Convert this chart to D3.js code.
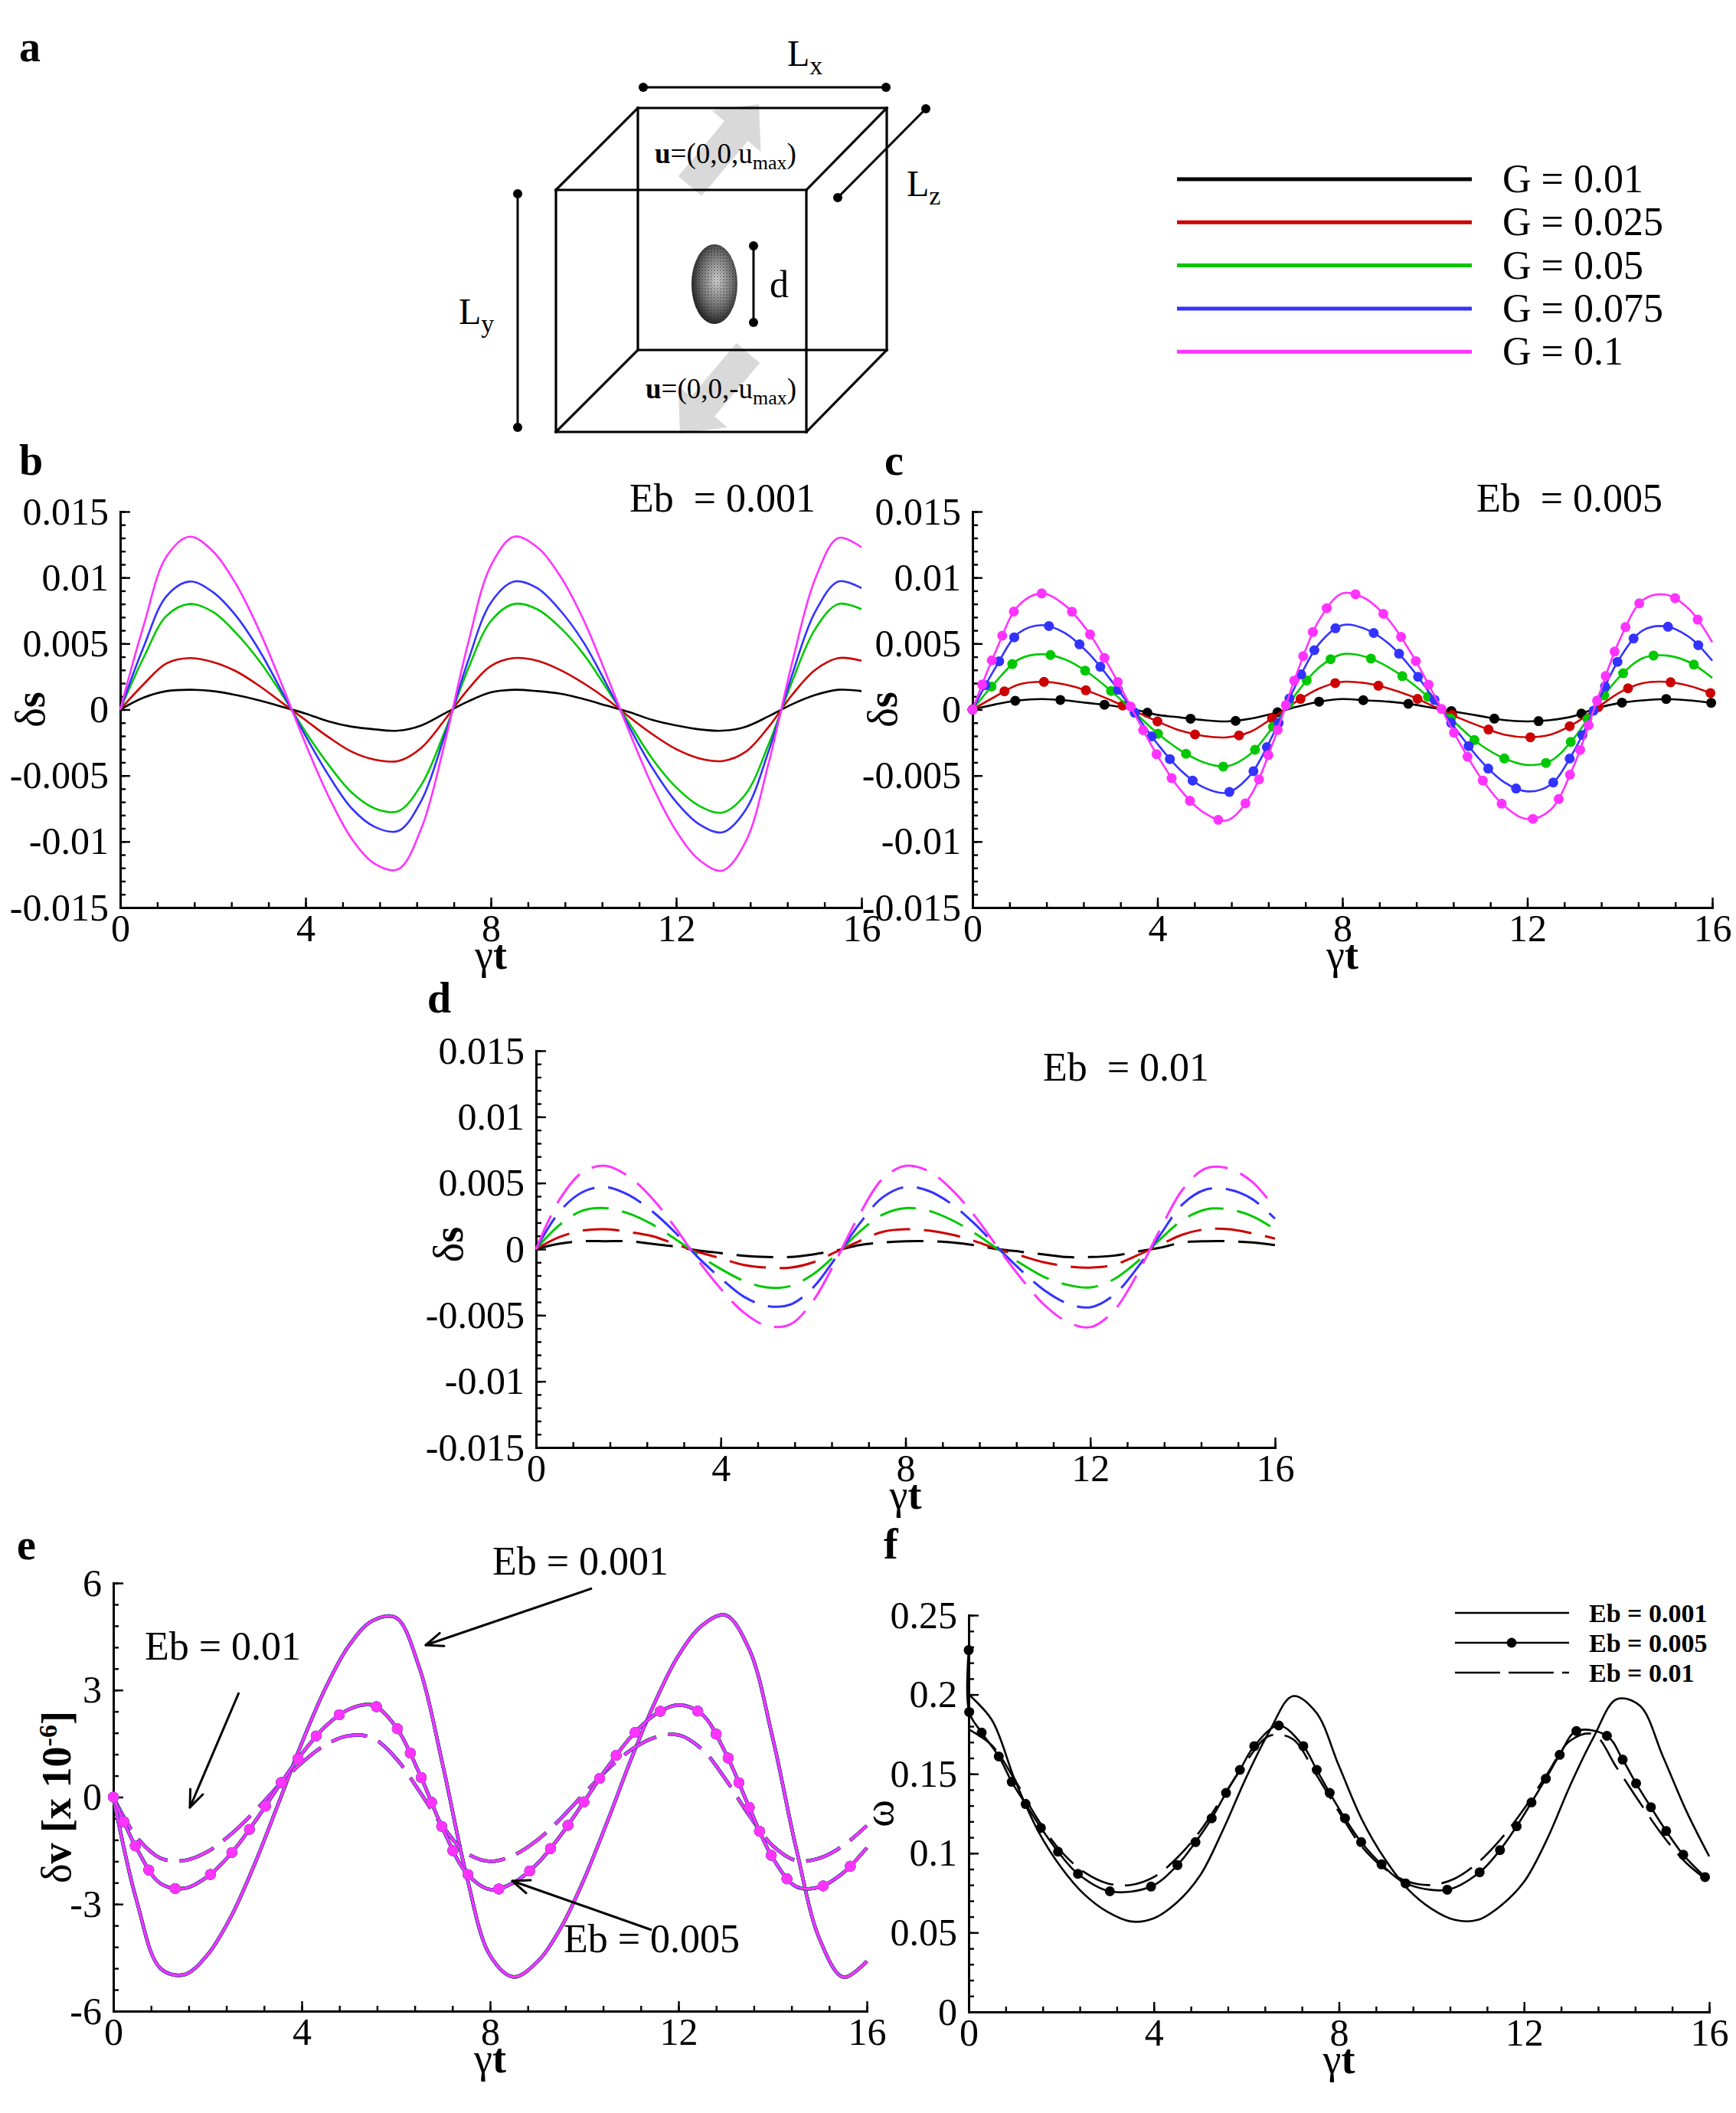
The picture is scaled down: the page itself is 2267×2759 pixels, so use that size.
<!DOCTYPE html>
<html><head><meta charset="utf-8">
<script src="https://cdn.jsdelivr.net/npm/d3@7"></script>
<style>
body{margin:0;background:#fff;}
svg{display:block;}
</style></head><body>
<svg id="fig" width="2267" height="2759" xmlns="http://www.w3.org/2000/svg"></svg>
<script>
// ---------------- DATA ----------------
const tGrid = [0,0.5,1,1.5,2,2.5,3,3.5,4,4.5,5,5.5,6,6.5,7,7.5,8,8.5,9,9.5,10,10.5,11,11.5,12,12.5,13,13.5,14,14.5,15,15.5,16];

const gLabels = ["G = 0.01","G = 0.025","G = 0.05","G = 0.075","G = 0.1"];
const gColors = ["#000000","#cc0000","#00c800","#3333ff","#ff33ff"];

// panel b : Eb = 0.001, delta s
const b_G001  = [0,0.0009,0.0014,0.0015,0.0014,0.0011,0.0007,0.0002,-0.0003,-0.0009,-0.0013,-0.0015,-0.0016,-0.0012,-0.0003,0.0006,0.0013,0.0015,0.0014,0.0012,0.0008,0.0003,-0.0002,-0.0008,-0.0012,-0.0015,-0.0016,-0.0013,-0.0005,0.0004,0.0011,0.0015,0.0014];
const b_G0025 = [0,0.0019,0.0035,0.0039,0.0036,0.0029,0.0018,0.0005,-0.0008,-0.0021,-0.0032,-0.0038,-0.0039,-0.0029,-0.0008,0.0015,0.0033,0.0039,0.0037,0.0030,0.0020,0.0008,-0.0006,-0.0019,-0.0030,-0.0037,-0.0039,-0.0032,-0.0013,0.0011,0.0030,0.0039,0.0037];
const b_G005  = [0,0.0039,0.0071,0.0080,0.0074,0.0058,0.0037,0.0011,-0.0017,-0.0042,-0.0063,-0.0075,-0.0077,-0.0057,-0.0017,0.0030,0.0067,0.0080,0.0076,0.0062,0.0042,0.0016,-0.0011,-0.0038,-0.0059,-0.0073,-0.0078,-0.0064,-0.0026,0.0021,0.0061,0.0080,0.0076];
const b_G0075 = [0,0.0047,0.0086,0.0097,0.0089,0.0071,0.0045,0.0013,-0.0020,-0.0050,-0.0075,-0.0089,-0.0092,-0.0069,-0.0020,0.0036,0.0081,0.0097,0.0092,0.0075,0.0051,0.0019,-0.0014,-0.0045,-0.0070,-0.0087,-0.0093,-0.0076,-0.0031,0.0026,0.0074,0.0097,0.0092];
const b_G01   = [0,0.0063,0.0116,0.0131,0.0120,0.0095,0.0060,0.0018,-0.0026,-0.0066,-0.0098,-0.0117,-0.0121,-0.0090,-0.0026,0.0049,0.0109,0.0131,0.0123,0.0101,0.0068,0.0026,-0.0018,-0.0059,-0.0092,-0.0114,-0.0122,-0.0100,-0.0040,0.0035,0.0099,0.0130,0.0123];

// panel c : Eb = 0.005
const c_G001  = [0,0.0004,0.0007,0.0008,0.0007,0.0005,0.0003,0.0000,-0.0004,-0.0006,-0.0008,-0.0009,-0.0007,-0.0003,0.0002,0.0006,0.0008,0.0007,0.0006,0.0004,0.0001,-0.0002,-0.0005,-0.0008,-0.0009,-0.0008,-0.0005,0.0001,0.0005,0.0007,0.0008,0.0007,0.0005];
const c_G0025 = [0,0.0010,0.0019,0.0021,0.0019,0.0014,0.0007,-0.0001,-0.0009,-0.0016,-0.0020,-0.0021,-0.0017,-0.0006,0.0006,0.0016,0.0021,0.0020,0.0016,0.0010,0.0002,-0.0006,-0.0013,-0.0019,-0.0021,-0.0019,-0.0011,0.0001,0.0013,0.0020,0.0021,0.0018,0.0012];
const c_G005  = [0,0.0021,0.0038,0.0042,0.0038,0.0028,0.0014,-0.0002,-0.0018,-0.0031,-0.0040,-0.0043,-0.0034,-0.0013,0.0012,0.0032,0.0042,0.0040,0.0032,0.0020,0.0005,-0.0012,-0.0027,-0.0037,-0.0042,-0.0039,-0.0022,0.0003,0.0025,0.0039,0.0041,0.0036,0.0024];
const c_G0075 = [0,0.0032,0.0058,0.0064,0.0058,0.0043,0.0022,-0.0002,-0.0026,-0.0046,-0.0059,-0.0063,-0.0050,-0.0019,0.0019,0.0050,0.0064,0.0061,0.0050,0.0031,0.0007,-0.0017,-0.0039,-0.0055,-0.0062,-0.0057,-0.0032,0.0004,0.0039,0.0060,0.0063,0.0055,0.0037];
const c_G01   = [0,0.0044,0.0079,0.0088,0.0079,0.0059,0.0030,-0.0003,-0.0035,-0.0061,-0.0078,-0.0084,-0.0066,-0.0025,0.0026,0.0068,0.0088,0.0084,0.0068,0.0042,0.0010,-0.0023,-0.0052,-0.0073,-0.0083,-0.0076,-0.0043,0.0006,0.0053,0.0083,0.0087,0.0076,0.0051];

// panel d : Eb = 0.01
const d_G001  = [0,0.0004,0.0006,0.0006,0.0006,0.0004,0.0002,-0.0001,-0.0003,-0.0005,-0.0006,-0.0006,-0.0004,-0.0001,0.0003,0.0005,0.0006,0.0006,0.0005,0.0003,0.0000,-0.0002,-0.0004,-0.0006,-0.0006,-0.0005,-0.0002,0.0001,0.0005,0.0006,0.0006,0.0005,0.0003];
const d_G0025 = [0,0.0009,0.0014,0.0015,0.0013,0.0010,0.0004,-0.0002,-0.0007,-0.0012,-0.0014,-0.0014,-0.0010,-0.0002,0.0006,0.0013,0.0015,0.0014,0.0011,0.0006,0.0000,-0.0005,-0.0010,-0.0013,-0.0014,-0.0012,-0.0005,0.0003,0.0011,0.0015,0.0015,0.0012,0.0008];
const d_G005  = [0,0.0018,0.0029,0.0031,0.0027,0.0019,0.0008,-0.0004,-0.0015,-0.0024,-0.0029,-0.0028,-0.0019,-0.0004,0.0013,0.0026,0.0031,0.0029,0.0022,0.0012,0.0000,-0.0011,-0.0021,-0.0027,-0.0029,-0.0023,-0.0010,0.0007,0.0022,0.0030,0.0030,0.0025,0.0015];
const d_G0075 = [0,0.0028,0.0043,0.0047,0.0041,0.0029,0.0013,-0.0006,-0.0022,-0.0036,-0.0043,-0.0042,-0.0029,-0.0006,0.0019,0.0039,0.0047,0.0044,0.0034,0.0019,0.0001,-0.0016,-0.0031,-0.0041,-0.0044,-0.0035,-0.0015,0.0010,0.0034,0.0045,0.0045,0.0038,0.0023];
const d_G01   = [0,0.0037,0.0058,0.0063,0.0055,0.0039,0.0017,-0.0008,-0.0030,-0.0048,-0.0058,-0.0057,-0.0039,-0.0008,0.0026,0.0053,0.0063,0.0059,0.0045,0.0025,0.0001,-0.0022,-0.0042,-0.0055,-0.0059,-0.0047,-0.0020,0.0014,0.0045,0.0061,0.0061,0.0051,0.0031];

// panel e : delta v [x 1e-6] (all G values coincide)
const e_Eb0001 = [0,-2.93,-4.80,-4.98,-4.42,-3.35,-1.88,-0.20,1.51,3.04,4.24,4.94,5.03,3.62,0.87,-2.20,-4.44,-5.04,-4.62,-3.67,-2.29,-0.65,1.08,2.66,3.97,4.81,5.10,4.15,1.66,-1.44,-3.99,-5.05,-4.60];
const e_Eb0005 = [0,-1.45,-2.42,-2.56,-2.23,-1.58,-0.70,0.28,1.21,1.98,2.46,2.58,1.97,0.66,-0.90,-2.13,-2.59,-2.40,-1.87,-1.07,-0.12,0.85,1.70,2.31,2.58,2.32,1.24,-0.28,-1.70,-2.51,-2.52,-2.12,-1.42];
const e_Eb001  = [0,-1.13,-1.71,-1.78,-1.53,-1.04,-0.40,0.31,0.96,1.46,1.72,1.66,1.09,0.16,-0.83,-1.57,-1.80,-1.63,-1.21,-0.60,0.10,0.78,1.33,1.67,1.74,1.34,0.50,-0.51,-1.36,-1.78,-1.71,-1.36,-0.80];

// panel f : omega
const f_Eb0001 = [0.200,0.184,0.146,0.114,0.091,0.074,0.063,0.057,0.059,0.069,0.086,0.115,0.148,0.177,0.199,0.189,0.155,0.121,0.096,0.077,0.065,0.058,0.058,0.067,0.082,0.109,0.143,0.173,0.197,0.193,0.161,0.127,0.098];
const f_Eb001  = [0.178,0.168,0.146,0.121,0.101,0.088,0.081,0.080,0.085,0.097,0.114,0.136,0.158,0.174,0.172,0.150,0.126,0.104,0.090,0.082,0.080,0.084,0.094,0.109,0.128,0.150,0.171,0.175,0.154,0.132,0.111,0.094,0.082];
const f_Eb0005_t = [0,0.01,0.28,0.65,0.93,1.23,1.56,1.93,2.36,3.05,3.94,4.51,4.9,5.25,5.56,5.86,6.17,6.7,7.23,7.52,7.8,8.13,8.48,8.92,9.44,10.34,11.04,11.48,11.84,12.16,12.47,12.77,13.13,13.79,14.13,14.42,14.74,15.07,15.44,15.91];
const f_Eb0005_v = [0.228,0.189,0.176,0.161,0.145,0.131,0.116,0.101,0.087,0.076,0.079,0.0925,0.107,0.122,0.138,0.1525,0.1675,0.1805,0.1675,0.1525,0.138,0.122,0.107,0.093,0.081,0.077,0.088,0.102,0.117,0.132,0.147,0.162,0.177,0.174,0.159,0.144,0.129,0.114,0.099,0.085];
const fLegend = ["Eb = 0.001","Eb = 0.005","Eb = 0.01"];

// tick labels
const tTickVals = [0,4,8,12,16];
const tTickLabels = ["0","4","8","12","16"];
const dsTickVals = [-0.015,-0.01,-0.005,0,0.005,0.01,0.015];
const dsTickLabels = ["-0.015","-0.01","-0.005","0","0.005","0.01","0.015"];
const dvTickVals = [-6,-3,0,3,6];
const dvTickLabels = ["-6","-3","0","3","6"];
const wTickVals = [0,0.05,0.1,0.15,0.2,0.25];
const wTickLabels = ["0","0.05","0.1","0.15","0.2","0.25"];

// ---------------- DRAWING ----------------
const SERIF = '"Liberation Serif","Times New Roman",Times,serif';
const svg = d3.select("#fig").attr("font-family", SERIF);
svg.append("rect").attr("width",2267).attr("height",2759).attr("fill","#fff");

function txt(parent, x, y, s, size, weight, anchor){
  return parent.append("text").attr("x",x).attr("y",y).attr("font-size",size)
    .attr("font-weight",weight||"normal").attr("text-anchor",anchor||"start")
    .attr("fill","#000").style("white-space","pre").text(s);
}

const tMinor = d3.range(0, 16.001, 0.8);

function makePanel(o){
  const g = svg.append("g");
  const x = d3.scaleLinear().domain([0,16]).range([o.x0,o.x1]);
  const y = d3.scaleLinear().domain(o.yDomain).range([o.yBot,o.yTop]);
  const styl = a => {
    a.attr("font-family",SERIF);
    a.select(".domain").attr("stroke","#000").attr("stroke-width",3).attr("stroke-linecap","square");
    a.selectAll(".tick line").attr("stroke","#000").attr("stroke-width",2.4);
    a.selectAll(".tick text").attr("font-family",SERIF).attr("font-size",50).attr("fill","#000");
  };
  g.append("g").attr("transform",`translate(0,${o.yBot})`)
    .call(d3.axisBottom(x).tickValues(tMinor).tickSize(-7).tickFormat(""))
    .call(a=>{a.select(".domain").remove(); styl(a);});
  g.append("g").attr("transform",`translate(${o.x0},0)`)
    .call(d3.axisLeft(y).tickValues(o.yMinor).tickSize(-7).tickFormat(""))
    .call(a=>{a.select(".domain").remove(); styl(a);});
  g.append("g").attr("transform",`translate(0,${o.yBot})`)
    .call(d3.axisBottom(x).tickValues(tTickVals).tickSize(-13).tickSizeOuter(0).tickPadding(8)
      .tickFormat((d,i)=>tTickLabels[i])).call(styl);
  g.append("g").attr("transform",`translate(${o.x0},0)`)
    .call(d3.axisLeft(y).tickValues(o.yTickVals).tickSize(-13).tickSizeOuter(0).tickPadding(15)
      .tickFormat((d,i)=>o.yTickLabels[i])).call(styl);
  // x title  γt
  const xt = g.append("text").attr("x",x(8)).attr("y",o.yBot+80).attr("text-anchor","middle")
    .attr("font-size",54).attr("fill","#000");
  xt.append("tspan").text("γ");
  xt.append("tspan").attr("font-weight","bold").text("t");
  return {g,x,y};
}

function lineGen(P, xs){
  return d3.line().x((d,i)=>P.x(xs[i])).y(d=>P.y(d)).curve(d3.curveCatmullRom.alpha(0.5));
}

function arcMarkers(node, spacing, ky){
  const L = node.getTotalLength();
  let prev = node.getPointAtLength(0);
  const pts = [prev]; let acc = 0;
  for (let s = 1; s <= L; s += 1){
    const p = node.getPointAtLength(s);
    acc += Math.hypot(p.x-prev.x, (p.y-prev.y)*ky);
    prev = p;
    if (acc >= spacing){ pts.push(p); acc -= spacing; }
  }
  return pts;
}

function ytitle(x, y, parts, size){
  const t = svg.append("text").attr("transform",`translate(${x},${y}) rotate(-90)`)
    .attr("text-anchor","middle").attr("font-size",size).attr("fill","#000");
  parts.forEach(p=>{
    const s = t.append("tspan").text(p.s);
    if (p.b) s.attr("font-weight","bold");
    if (p.fs) s.attr("font-size",p.fs);
    if (p.dy) s.attr("dy",p.dy);
  });
  return t;
}

// ---------- panel a : schematic ----------
const A = svg.append("g");
function fatArrow(tail, tip, sw, hw, hl){
  const dx = tip[0]-tail[0], dy = tip[1]-tail[1], L = Math.hypot(dx,dy);
  const ux = dx/L, uy = dy/L, nx = -uy, ny = ux;
  const bx = tip[0]-ux*hl, by = tip[1]-uy*hl;
  const pts = [
    [tail[0]+nx*sw/2, tail[1]+ny*sw/2],
    [bx+nx*sw/2, by+ny*sw/2],
    [bx+nx*hw/2, by+ny*hw/2],
    tip,
    [bx-nx*hw/2, by-ny*hw/2],
    [bx-nx*sw/2, by-ny*sw/2],
    [tail[0]-nx*sw/2, tail[1]-ny*sw/2]
  ];
  A.append("polygon").attr("points",pts.map(p=>p.join(",")).join(" ")).attr("fill","#d9d9d9");
}
fatArrow([901,243],[991,136],40,84,46);
fatArrow([977,461],[888,566],40,84,46);

const defs = svg.append("defs");
const rg = defs.append("radialGradient").attr("id","ell").attr("cx","55%").attr("cy","45%").attr("r","60%");
rg.append("stop").attr("offset","0%").attr("stop-color","#d8d8d8");
rg.append("stop").attr("offset","55%").attr("stop-color","#7a7a7a");
rg.append("stop").attr("offset","100%").attr("stop-color","#1a1a1a");
const pat = defs.append("pattern").attr("id","stip").attr("width",4).attr("height",4).attr("patternUnits","userSpaceOnUse");
pat.append("circle").attr("cx",1).attr("cy",1).attr("r",0.9).attr("fill","#000").attr("opacity",0.45);
pat.append("circle").attr("cx",3).attr("cy",3).attr("r",0.7).attr("fill","#000").attr("opacity",0.3);
A.append("ellipse").attr("cx",933).attr("cy",371).attr("rx",30).attr("ry",52).attr("fill","url(#ell)");
A.append("ellipse").attr("cx",933).attr("cy",371).attr("rx",30).attr("ry",52).attr("fill","url(#stip)");

const cubeEdges = [
  [726,248,1053,248],[1053,248,1053,564],[1053,564,726,564],[726,564,726,248],
  [833,141,1158,141],[1158,141,1158,457],[1158,457,833,457],[833,457,833,141],
  [726,248,833,141],[1053,248,1158,141],[726,564,833,457],[1053,564,1158,457]
];
cubeEdges.forEach(e=>A.append("line").attr("x1",e[0]).attr("y1",e[1]).attr("x2",e[2]).attr("y2",e[3])
  .attr("stroke","#000").attr("stroke-width",3.2).attr("stroke-linecap","square"));

const dimLines = [[840,114,1157,114],[1209,142,1094,258],[676,253,676,558],[984,321,984,421]];
dimLines.forEach(e=>{
  A.append("line").attr("x1",e[0]).attr("y1",e[1]).attr("x2",e[2]).attr("y2",e[3]).attr("stroke","#000").attr("stroke-width",3);
  A.append("circle").attr("cx",e[0]).attr("cy",e[1]).attr("r",6).attr("fill","#000");
  A.append("circle").attr("cx",e[2]).attr("cy",e[3]).attr("r",6).attr("fill","#000");
});

function Llabel(x, y, sub){
  const t = A.append("text").attr("x",x).attr("y",y).attr("font-size",48).attr("fill","#000");
  t.append("tspan").text("L");
  t.append("tspan").attr("font-size",34).attr("dy",11).text(sub);
}
Llabel(1028,86,"x");
Llabel(1184,256,"z");
Llabel(599,423,"y");
txt(A,1005,388,"d",50);

function uLabel(x, y, mid){
  const t = A.append("text").attr("x",x).attr("y",y).attr("font-size",37).attr("fill","#000");
  t.append("tspan").attr("font-weight","bold").text("u");
  t.append("tspan").text(mid);
  t.append("tspan").attr("font-size",26).attr("dy",8).text("max");
  t.append("tspan").attr("dy",-8).text(")");
}
uLabel(855,213,"=(0,0,u");
uLabel(843,520,"=(0,0,-u");

// top legend
gLabels.forEach((lab,i)=>{
  const yy = 234 + i*56.3;
  svg.append("line").attr("x1",1537).attr("x2",1922).attr("y1",yy).attr("y2",yy)
    .attr("stroke",gColors[i]).attr("stroke-width",5);
  txt(svg,1962,yy+17,lab,52);
});

// panel letters
[["a",25,80],["b",25,620],["c",1155,620],["d",558,1322],["e",22,2036],["f",1154,2035]]
  .forEach(p=>txt(svg,p[1],p[2],p[0],56,"bold"));

// ---------- panels b, c, d ----------
const dsMinor = d3.range(-15, 15.5, 1).map(v=>v/1000);
const cfgDs = {yDomain:[-0.015,0.015], yTickVals:dsTickVals, yTickLabels:dsTickLabels, yMinor:dsMinor};

const Pb = makePanel(Object.assign({x0:157,x1:1125,yTop:668,yBot:1185},cfgDs));
[b_G001,b_G0025,b_G005,b_G0075,b_G01].forEach((arr,i)=>{
  Pb.g.append("path").attr("d",lineGen(Pb,tGrid)(arr)).attr("fill","none")
    .attr("stroke",gColors[i]).attr("stroke-width",2.6);
});
txt(svg,822,668,"Eb  = 0.001",52);
ytitle(58, Pb.y(0), [{s:"δ"},{s:"s",b:true}], 54);

const Pc = makePanel(Object.assign({x0:1270,x1:2236,yTop:668,yBot:1185},cfgDs));
[c_G001,c_G0025,c_G005,c_G0075,c_G01].forEach((arr,i)=>{
  const p = Pc.g.append("path").attr("d",lineGen(Pc,tGrid)(arr)).attr("fill","none")
    .attr("stroke",gColors[i]).attr("stroke-width",2.6);
  const pts = arcMarkers(p.node(), 59, 1.8);
  Pc.g.selectAll(null).data(pts).enter().append("circle")
    .attr("cx",d=>d.x).attr("cy",d=>d.y).attr("r",6.5).attr("fill",gColors[i]);
});
txt(svg,1928,668,"Eb  = 0.005",52);
ytitle(1171, Pc.y(0), [{s:"δ"},{s:"s",b:true}], 54);

const Pd = makePanel(Object.assign({x0:700,x1:1665,yTop:1372,yBot:1890},cfgDs));
[d_G001,d_G0025,d_G005,d_G0075,d_G01].forEach((arr,i)=>{
  Pd.g.append("path").attr("d",lineGen(Pd,tGrid)(arr)).attr("fill","none")
    .attr("stroke",gColors[i]).attr("stroke-width",3).attr("stroke-dasharray","48,18");
});
txt(svg,1362,1411,"Eb  = 0.01",52);
ytitle(604, Pd.y(0)-6, [{s:"δ"},{s:"s",b:true}], 54);

// ---------- panel e ----------
const Pe = makePanel({x0:148,x1:1132,yTop:2067,yBot:2626,yDomain:[-6,6],
  yTickVals:dvTickVals, yTickLabels:dvTickLabels, yMinor:d3.range(-6,6.01,0.6)});
const eWidths = [4.4,4.4,4.4,4.2,3.2];
[e_Eb0001, e_Eb001].forEach((arr,k)=>{
  gColors.forEach((c,i)=>{
    const p = Pe.g.append("path").attr("d",lineGen(Pe,tGrid)(arr)).attr("fill","none")
      .attr("stroke",c).attr("stroke-width",eWidths[i]);
    if (k===1) p.attr("stroke-dasharray","48,16");
  });
});
gColors.forEach((c,i)=>{
  const p = Pe.g.append("path").attr("d",lineGen(Pe,tGrid)(e_Eb0005)).attr("fill","none")
    .attr("stroke",c).attr("stroke-width",eWidths[i]);
  const pts = arcMarkers(p.node(), 59, 1.8);
  Pe.g.selectAll(null).data(pts).enter().append("circle")
    .attr("cx",d=>d.x).attr("cy",d=>d.y).attr("r",7).attr("fill",c);
});
ytitle(92, Pe.y(0), [{s:"δ"},{s:"v [x 10",b:true},{s:"-6",b:true,fs:34,dy:-18},{s:"]",b:true,dy:18}], 54);

function pointer(x1,y1,x2,y2){
  const ang = Math.atan2(y2-y1,x2-x1), L = 24, w = 0.38;
  svg.append("line").attr("x1",x1).attr("y1",y1).attr("x2",x2).attr("y2",y2).attr("stroke","#000").attr("stroke-width",3);
  [ang+Math.PI-w, ang+Math.PI+w].forEach(a=>{
    svg.append("line").attr("x1",x2).attr("y1",y2).attr("x2",x2+L*Math.cos(a)).attr("y2",y2+L*Math.sin(a))
      .attr("stroke","#000").attr("stroke-width",3).attr("stroke-linecap","round");
  });
}
txt(svg,643,2056,"Eb = 0.001",52);
pointer(773,2074,556,2148);
txt(svg,189,2167,"Eb = 0.01",52);
pointer(312,2210,248,2360);
txt(svg,736,2549,"Eb = 0.005",52);
pointer(851,2520,669,2456);

// ---------- panel f ----------
const Pf = makePanel({x0:1265,x1:2232,yTop:2109,yBot:2627,yDomain:[0,0.25],
  yTickVals:wTickVals, yTickLabels:wTickLabels, yMinor:d3.range(0,25.5,1).map(v=>v/100)});
Pf.g.append("path").attr("d",lineGen(Pf,tGrid)(f_Eb0001)).attr("fill","none").attr("stroke","#000").attr("stroke-width",2.6);
Pf.g.append("path").attr("d",lineGen(Pf,f_Eb0005_t)(f_Eb0005_v)).attr("fill","none").attr("stroke","#000").attr("stroke-width",2.6);
Pf.g.selectAll(null).data(f_Eb0005_v).enter().append("circle")
  .attr("cx",(d,i)=>Pf.x(f_Eb0005_t[i])).attr("cy",d=>Pf.y(d)).attr("r",6.5).attr("fill","#000");
Pf.g.append("path").attr("d",lineGen(Pf,tGrid)(f_Eb001)).attr("fill","none").attr("stroke","#000")
  .attr("stroke-width",2.6).attr("stroke-dasharray","45,15");
ytitle(1166, Pf.y(0.125), [{s:"ω"}], 54);

fLegend.forEach((lab,i)=>{
  const yy = 2106 + i*39;
  const l = svg.append("line").attr("x1",1900).attr("x2",2049).attr("y1",yy).attr("y2",yy)
    .attr("stroke","#000").attr("stroke-width",2.6);
  if (i===1) svg.append("circle").attr("cx",1974).attr("cy",yy).attr("r",6.5).attr("fill","#000");
  if (i===2) l.attr("stroke-dasharray","59,11");
  txt(svg,2075,yy+12,lab,34,"bold");
});
</script>
</body></html>
